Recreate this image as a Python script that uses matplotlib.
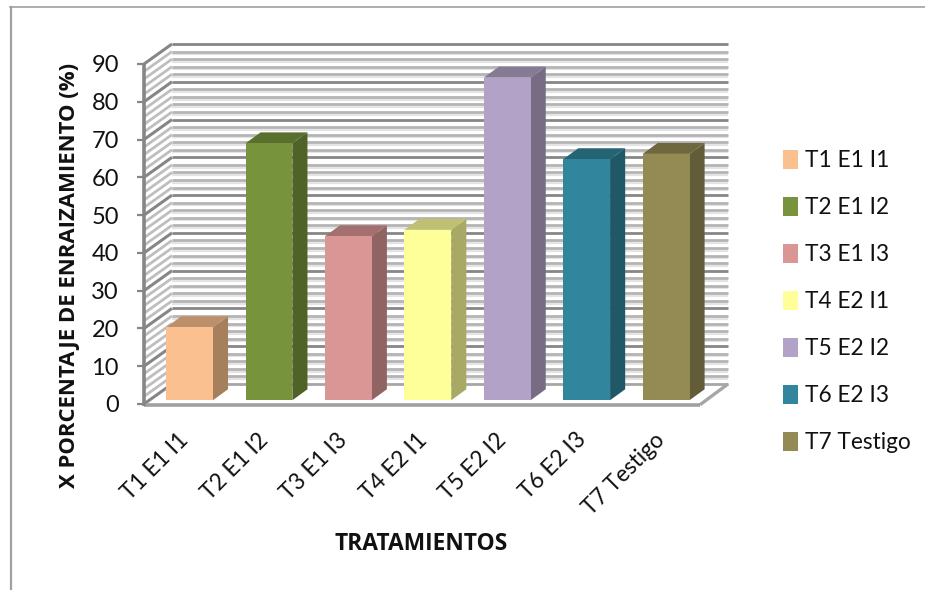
"""3-D style column chart of rooting percentage per treatment, drawn with flat polygons."""
import matplotlib
matplotlib.use("Agg")
import matplotlib.pyplot as plt
from matplotlib.patches import Patch, Polygon
from matplotlib.lines import Line2D

plt.rcParams["font.family"] = ["Lato", "DejaVu Sans"]

treatments = ["T1 E1 I1", "T2 E1 I2", "T3 E1 I3", "T4 E2 I1", "T5 E2 I2", "T6 E2 I3", "T7 Testigo"]
rooting_pct = [19.3, 68.0, 43.4, 45.1, 85.4, 63.8, 65.2]
front_colors = ["#FAC090", "#77933C", "#D99694", "#FFFF99", "#B3A2C7", "#31859C", "#948A54"]
top_colors = ["#BC9069", "#5A6F2D", "#A3706F", "#C0C073", "#867A95", "#256475", "#6F683F"]
side_colors = ["#A67F5C", "#4F6228", "#906463", "#A9A966", "#776C84", "#215868", "#625C38"]
y_ticks = list(range(0, 100, 10))
y_minor = list(range(0, 92, 2))

W, H = 925, 590
X0, X1, Y0, Y1 = 144, 700, 404, 64   # plot frame, in pixels

# depth offsets, in data units
WALL_DX, WALL_DY = 0.3525, 5.3
INSET_DX, INSET_DY = 0.073, 1.0
BAR_W, BAR_DX, BAR_DY = 0.59, 0.19, 2.9
LABEL_SHIFT = 0.075   # rotated category labels sit a little left of the column centre

MAJOR = "#868686"
MINOR = "#B4B4B4"
BAND = "#E4E4E4"

fig = plt.figure(figsize=(W / 100, H / 100), dpi=100)
ax = fig.add_axes([X0 / W, 1 - Y0 / H, (X1 - X0) / W, (Y0 - Y1) / H])
ax.set_xlim(0, len(treatments))
ax.set_ylim(0, 90)
ax.patch.set_visible(False)
for s in ax.spines.values():
    s.set_visible(False)


def seg(xs, ys, color, lw, z=1):
    ax.plot(xs, ys, color=color, lw=lw, solid_capstyle="butt", clip_on=False, zorder=z)


# back wall and left wall gridlines
n = len(treatments)
for v in y_minor:
    if v % 10 == 0:
        continue
    seg([WALL_DX, n + WALL_DX], [v + WALL_DY - 0.7] * 2, BAND, 1.6)
    seg([WALL_DX, n + WALL_DX], [v + WALL_DY] * 2, MINOR, 2.0, 2)
    seg([0, WALL_DX], [v, v + WALL_DY], "#BEBEBE", 2.0, 2)
for v in y_ticks:
    seg([WALL_DX, n + WALL_DX], [v + WALL_DY] * 2, MAJOR if v else "#A6A6A6", 2.0, 3)
    seg([0, WALL_DX], [v, v + WALL_DY], MAJOR, 2.2, 3)
    seg([-0.085, 0], [v, v], MAJOR, 1.6, 3)

# floor outline and front axes
seg([n, n + WALL_DX], [-0.2, WALL_DY], "#A6A6A6", 2.4, 3)
seg([0, n], [-0.2, -0.2], "#A0A0A0", 2.6, 3)
seg([0, 0], [-0.5, 90], MAJOR, 2.6, 4)

# columns
for i, v in enumerate(rooting_pct):
    left = i + (1 - BAR_W) / 2 + INSET_DX
    right = left + BAR_W
    base = INSET_DY
    top = base + v
    ax.add_patch(Polygon([(right, base), (right + BAR_DX, base + BAR_DY),
                          (right + BAR_DX, top + BAR_DY), (right, top)],
                         fc=side_colors[i], ec="none", zorder=5, clip_on=False))
    ax.add_patch(Polygon([(left, top), (right, top), (right + BAR_DX, top + BAR_DY),
                          (left + BAR_DX, top + BAR_DY)],
                         fc=top_colors[i], ec="none", zorder=5, clip_on=False))
    ax.add_patch(Polygon([(left, base), (right, base), (right, top), (left, top)],
                         fc=front_colors[i], ec="none", zorder=6, clip_on=False))

ax.set_yticks(y_ticks)
ax.set_yticklabels([str(v) for v in y_ticks], fontsize=17, color="#111111")
ax.set_xticks([i + 0.5 - LABEL_SHIFT for i in range(n)])
ax.set_xticklabels(treatments, fontsize=16.3, rotation=45, ha="right",
                   rotation_mode="anchor", color="#111111")
ax.tick_params(axis="y", length=0, pad=18)
ax.tick_params(axis="x", length=0, pad=18)

bold_font = ["Open Sans", "DejaVu Sans"]
fig.text(70 / W, 1 - 275.5 / H, "X PORCENTAJE DE ENRAIZAMIENTO (%)", rotation=90,
         ha="center", va="center", fontsize=15.9, fontweight="bold", family=bold_font,
         color="#111111")
fig.text(421 / W, 1 - 544 / H, "TRATAMIENTOS", ha="center", va="center",
         fontsize=16.4, fontweight="bold", family=bold_font, color="#111111")

handles = [Patch(fc=c, ec="none") for c in front_colors]
fig.legend(handles, treatments, loc="upper left", bbox_to_anchor=(783 / W, 1 - 150 / H),
           frameon=False, fontsize=16.3, handlelength=0.66, handleheight=0.92,
           handletextpad=0.33, labelspacing=1.13, borderpad=0, borderaxespad=0,
           labelcolor="#111111")

# outer chart frame: only the top and left edges show
fig.add_artist(Line2D([10.5 / W, 10.5 / W], [0, 1 - 7 / H], color="#A0A0A0", lw=1.6))
fig.add_artist(Line2D([10 / W, 1], [1 - 7 / H, 1 - 7 / H], color="#A0A0A0", lw=1.2))

fig.savefig("out.png", dpi=100)
